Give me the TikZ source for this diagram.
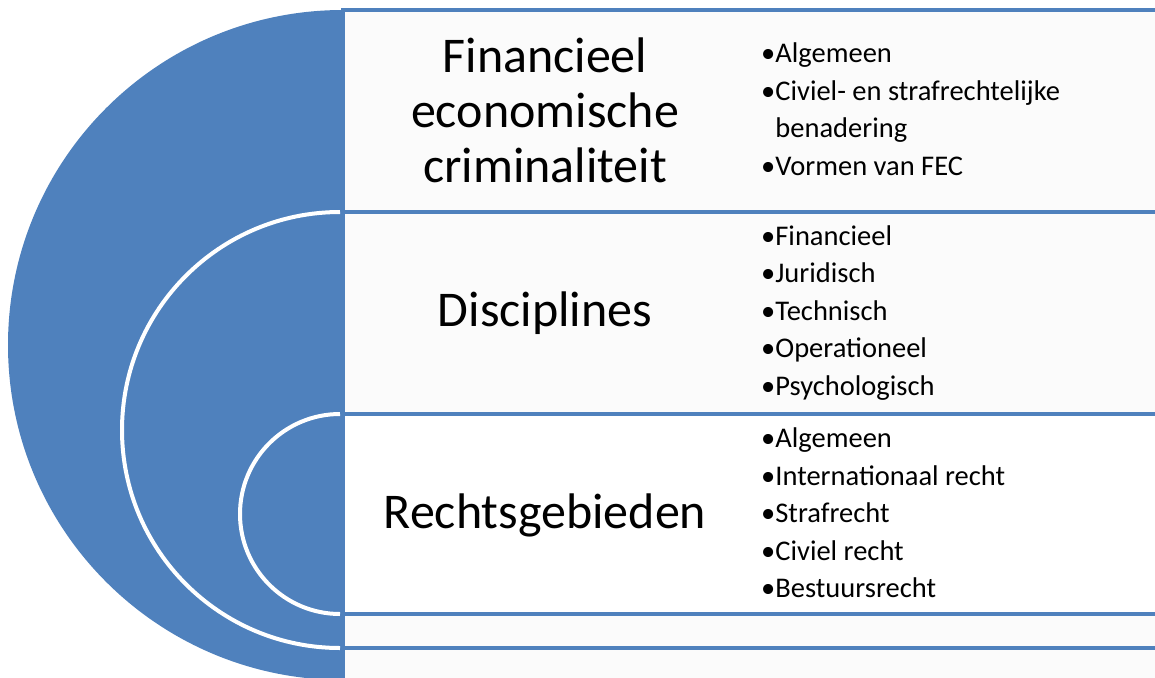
\documentclass[tikz,border=0pt]{standalone}
\usepackage{fontspec}
\setmainfont{Carlito}
\definecolor{fecblue}{RGB}{79,129,189}
\definecolor{bandgray}{RGB}{251,251,251}

\begin{document}
\begin{tikzpicture}[x=1pt,y=-1pt]

  \useasboundingbox (0,0) rectangle (1155,677);

  % blauwe halve schijf met witte bogen
  \fill[fecblue] (343,10) arc[start angle=270, end angle=90, radius=335] -- cycle;
  \begin{scope}[every path/.style={draw=white, line width=4pt}]
    \path (340,212) arc[start angle=270, end angle=90, radius=218];
    \path (340,414) arc[start angle=270, end angle=90, radius=100];
  \end{scope}

  % banden
  \begin{scope}[every node/.style={draw=fecblue, line width=4.5pt, fill=bandgray,
      anchor=north west, inner sep=0, outer sep=0, minimum width=830}]
    \node[minimum height=202] (band1) at (343,10)  {};
    \node[minimum height=202] (band2) at (343,212) {};
    \node[minimum height=200, fill=white] (band3) at (343,414) {};
    \node[minimum height=34]  (band4) at (343,614) {};
    \node[minimum height=60]  (band5) at (343,648) {};
  \end{scope}

  % titels
  \begin{scope}[every node/.style={align=center, font=\fontsize{50}{55}\selectfont}]
    \node (fec)   at (545,110) {Financieel\\economische\\criminaliteit};
    \node (disc)  at (545,313) {Disciplines};
    \node (recht) at (545,515) {Rechtsgebieden};
  \end{scope}

  % opsommingen
  \begin{scope}[every node/.style={align=left, anchor=west, inner sep=0,
      font=\fontsize{28.5}{37.5}\selectfont}]
    \node (items1) at (761,109) {•Algemeen\\•Civiel- en strafrechtelijke\\\hphantom{•}benadering\\•Vormen van FEC};
    \node (items2) at (761,313) {•Financieel\\•Juridisch\\•Technisch\\•Operationeel\\•Psychologisch};
    \node (items3) at (761,513) {•Algemeen\\•Internationaal recht\\•Strafrecht\\•Civiel recht\\•Bestuursrecht};
  \end{scope}

\end{tikzpicture}
\end{document}
